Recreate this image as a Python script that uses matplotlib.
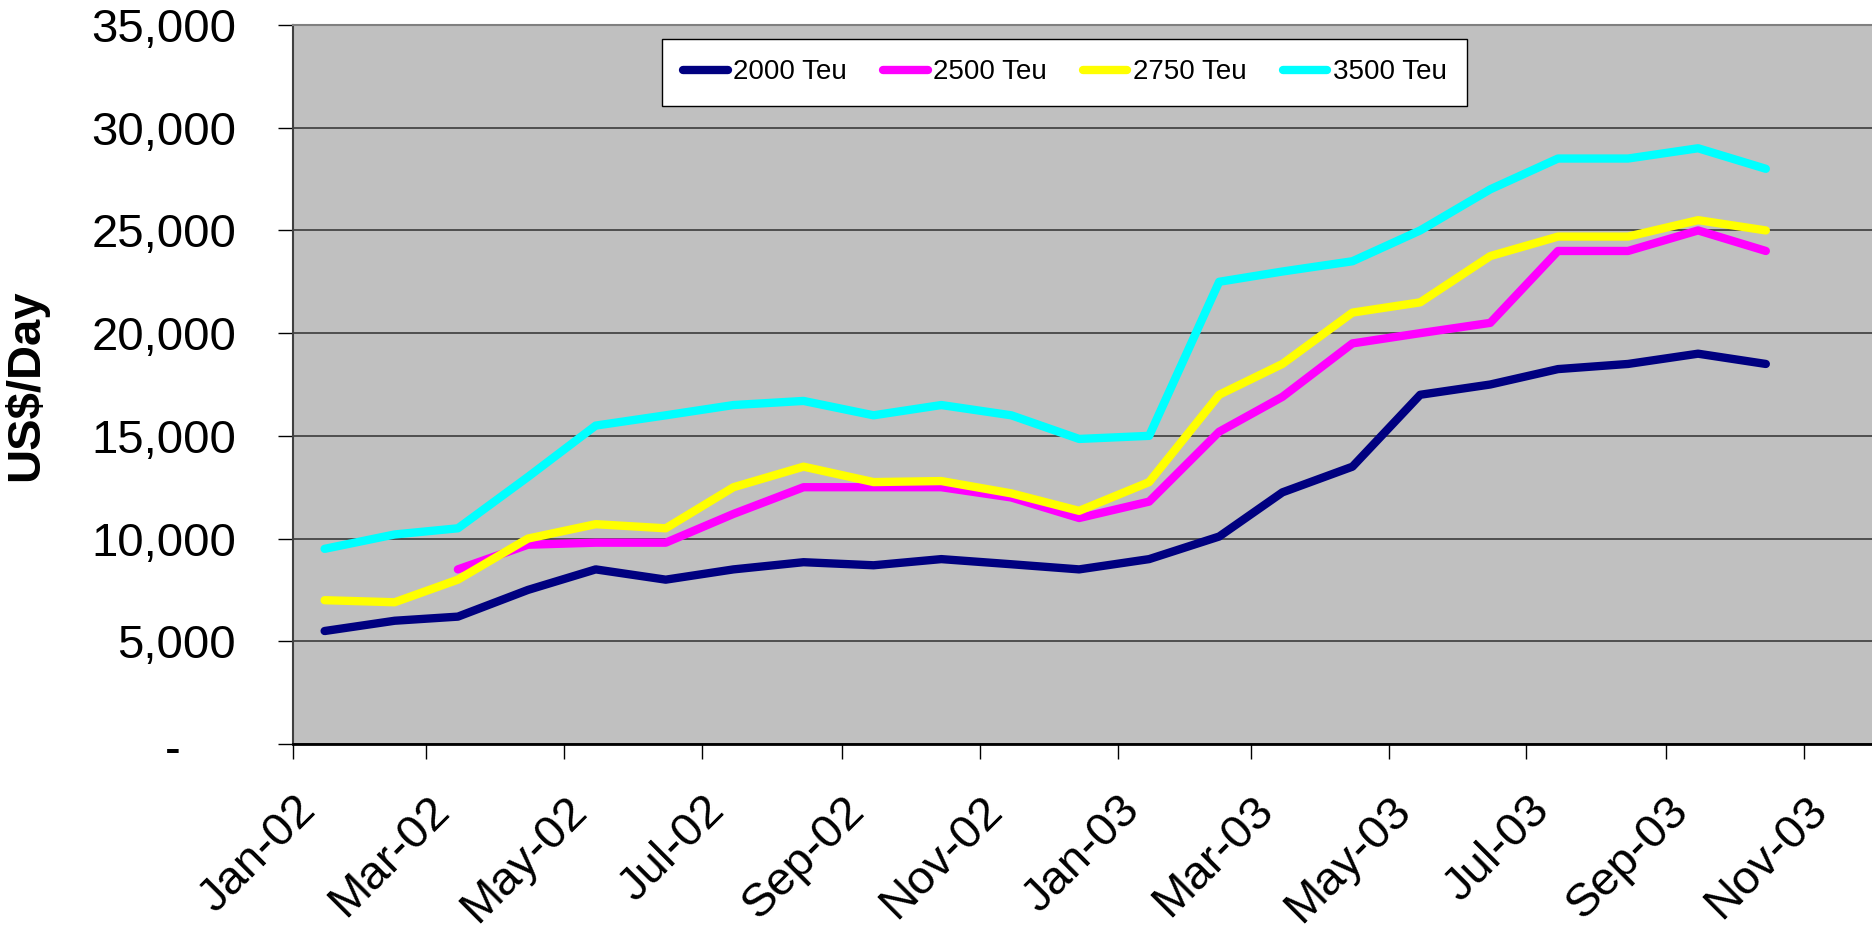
import numpy as np
import matplotlib
matplotlib.use('Agg')
import matplotlib.pyplot as plt
import matplotlib.dates as mdates
import matplotlib.transforms as mtransforms
from matplotlib.ticker import FuncFormatter, MultipleLocator

plt.rcParams['font.family'] = ['Liberation Sans', 'DejaVu Sans']

# Monthly charter rates, Jan-02 .. Oct-03 (US$/day)
months = np.arange('2002-01', '2003-11', dtype='datetime64[M]')
teu_2000 = [5500, 6000, 6200, 7500, 8500, 8000, 8500, 8850, 8700, 9000, 8750,
            8500, 9000, 10100, 12250, 13500, 17000, 17500, 18250, 18500, 19000, 18500]
teu_2500 = [np.nan, np.nan, 8500, 9700, 9800, 9800, 11200, 12500, 12500, 12500, 12000,
            11000, 11800, 15200, 16900, 19500, 20000, 20500, 24000, 24000, 25000, 24000]
teu_2750 = [7000, 6900, 8000, 10000, 10700, 10500, 12500, 13500, 12750, 12800, 12200,
            11350, 12750, 17000, 18500, 21000, 21500, 23750, 24700, 24700, 25500, 25000]
teu_3500 = [9500, 10200, 10500, 13000, 15500, 16000, 16500, 16700, 16000, 16500, 16000,
            14850, 15000, 22500, 23000, 23500, 25000, 27000, 28500, 28500, 29000, 28000]

series = [('2000 Teu', teu_2000, '#000080'),
          ('2500 Teu', teu_2500, '#FF00FF'),
          ('2750 Teu', teu_2750, '#FFFF00'),
          ('3500 Teu', teu_3500, '#00FFFF')]

# points sit mid-month
x = months.astype('datetime64[D]') + 14

fig = plt.figure(figsize=(18.72, 9.41), dpi=100)
ax = fig.add_axes([293/1872, 1 - 744/941, 1 - 293/1872, (744 - 25)/941])
ax.set_facecolor('#C0C0C0')

for name, vals, col in series:
    ax.plot(x, vals, color=col, lw=6, label=name, solid_capstyle='round',
            solid_joinstyle='round')

ax.set_ylim(0, 35000)
ax.set_xlim(np.datetime64('2002-01-01'), np.datetime64('2003-12-01'))
ax.yaxis.set_major_locator(MultipleLocator(5000))
ax.yaxis.set_major_formatter(FuncFormatter(lambda v, p: '-' if v == 0 else f'{v:,.0f}'))
ax.xaxis.set_major_locator(mdates.MonthLocator(bymonth=[1, 3, 5, 7, 9, 11]))
ax.xaxis.set_major_formatter(mdates.DateFormatter('%b-%y'))

ax.grid(axis='y', color='#303030', lw=1.1)
ax.set_axisbelow(True)
ax.tick_params(axis='y', direction='out', length=11, width=1, labelsize=34, pad=30)
ax.tick_params(axis='x', direction='out', length=11, width=1, labelsize=34, pad=32)

ax.spines['right'].set_visible(False)
ax.spines['top'].set_color('#808080')
ax.spines['top'].set_linewidth(1.5)
ax.spines['left'].set_color('#404040')
ax.spines['left'].set_linewidth(1.5)
ax.spines['bottom'].set_color('black')
ax.spines['bottom'].set_linewidth(2)

fig.text(26/1872, 1 - 385/941, 'US$/Day', rotation=90, ha='center', va='center',
         fontsize=34, fontweight='bold')

leg = ax.legend(loc='center', bbox_to_anchor=(0.4889, 0.934), ncol=4, fontsize=20,
                frameon=True, fancybox=False, handlelength=1.6, handletextpad=0.2,
                columnspacing=1.3, borderpad=0.75, borderaxespad=0)
leg.get_frame().set_edgecolor('black')
leg.get_frame().set_linewidth(1)
leg.get_frame().set_facecolor('white')
leg.get_frame().set_alpha(1)

fig.canvas.draw()

for lbl in ax.get_xticklabels():
    lbl.set_rotation(45)
    lbl.set_ha('right')
    lbl.set_va('center')
    lbl.set_rotation_mode('anchor')
    lbl.set_transform(lbl.get_transform() +
                      mtransforms.ScaledTranslation(16/100, 0, fig.dpi_scale_trans))

# the zero label ("-") sits further left, like an accounting format
for lbl in ax.get_yticklabels():
    if lbl.get_text() == '-':
        lbl.set_transform(lbl.get_transform() +
                          mtransforms.ScaledTranslation(-55/100, -3/100, fig.dpi_scale_trans))

fig.savefig('out.png', dpi=100)
